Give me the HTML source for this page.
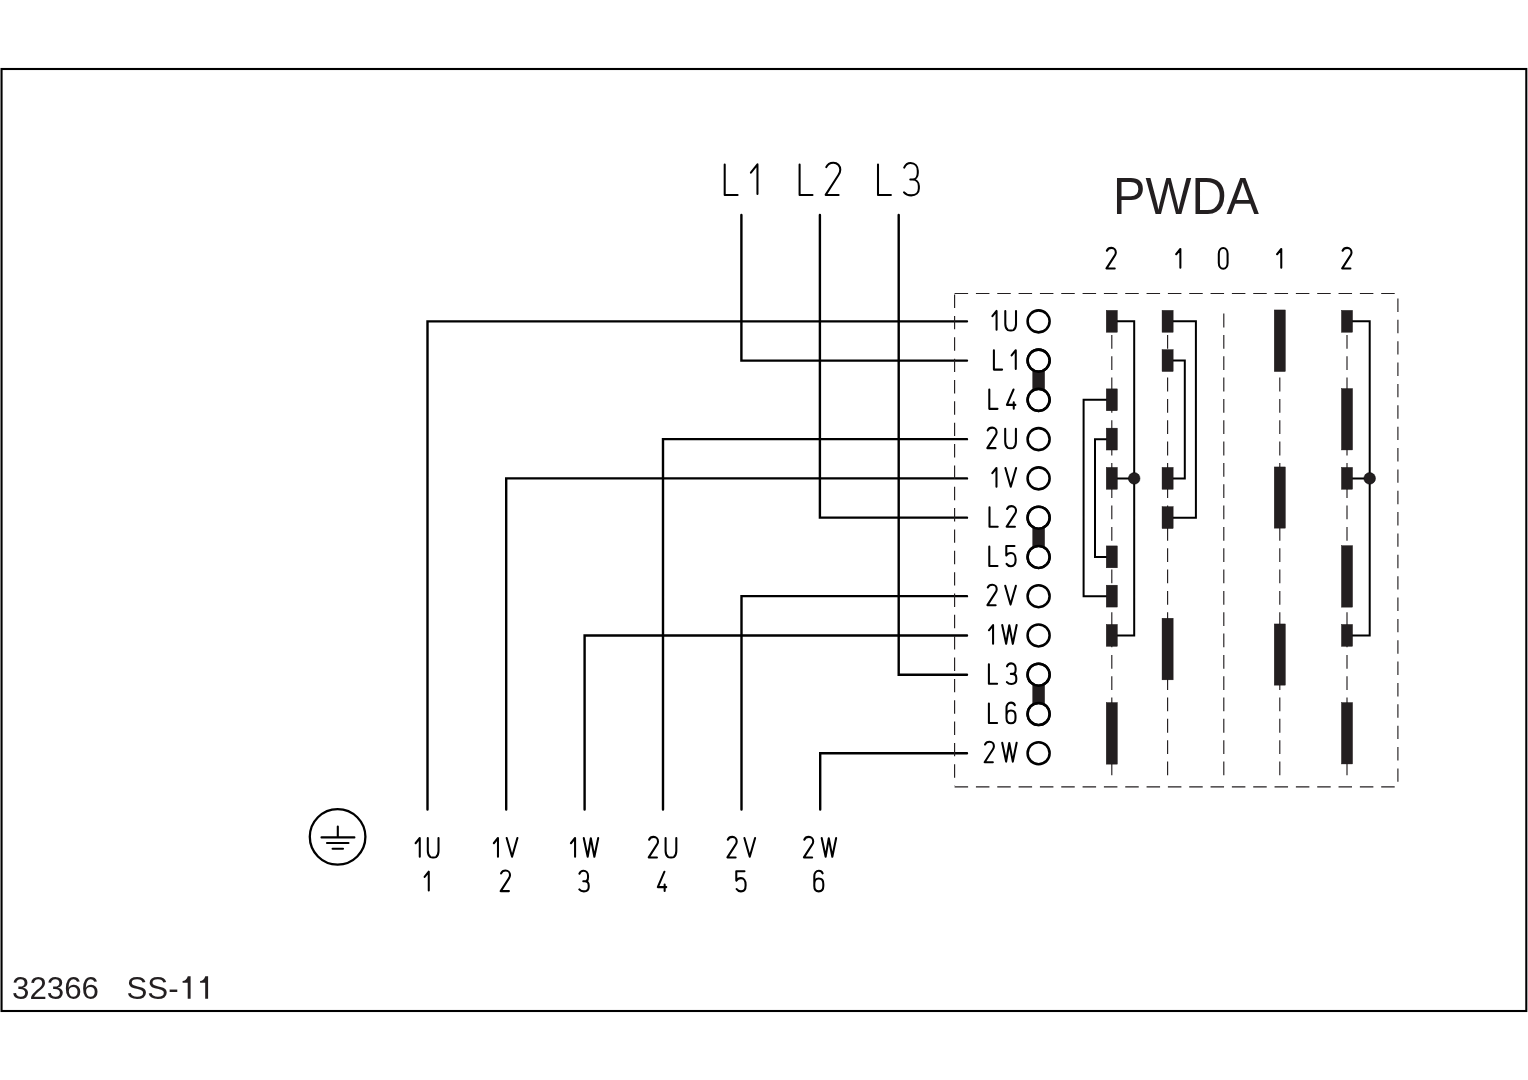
<!DOCTYPE html>
<html><head><meta charset="utf-8"><style>
html,body{margin:0;padding:0;background:#fff;}
svg{display:block;will-change:transform;}
</style></head><body>
<svg width="1528" height="1080" viewBox="0 0 1528 1080">
<rect width="1528" height="1080" fill="#fff"/>

<rect x="1.55" y="69" width="1524.75" height="942" fill="none" stroke="#000" stroke-width="2.1"/>
<path d="M741.4,215.0 V360.61 H967 M819.9,215.0 V517.65 H967 M898.7,215.0 V674.69 H967 M427.5,809.6 V321.35 H967 M506.2,809.6 V478.39 H967 M584.6,809.6 V635.4300000000001 H967 M663.0,809.6 V439.13 H967 M741.5,809.6 V596.1700000000001 H967 M820.2,809.6 V753.21 H967" fill="none" stroke="#000" stroke-width="2.4" stroke-linejoin="miter" stroke-linecap="round"/>
<g fill="none" stroke="#000" stroke-width="2.55"><circle cx="1038.6" cy="321.35" r="11.0"/><circle cx="1038.6" cy="360.61" r="11.0"/><circle cx="1038.6" cy="399.87" r="11.0"/><circle cx="1038.6" cy="439.13" r="11.0"/><circle cx="1038.6" cy="478.39" r="11.0"/><circle cx="1038.6" cy="517.65" r="11.0"/><circle cx="1038.6" cy="556.91" r="11.0"/><circle cx="1038.6" cy="596.17" r="11.0"/><circle cx="1038.6" cy="635.43" r="11.0"/><circle cx="1038.6" cy="674.69" r="11.0"/><circle cx="1038.6" cy="713.95" r="11.0"/><circle cx="1038.6" cy="753.21" r="11.0"/></g>
<g fill="#231f20"><rect x="1032.3999999999999" y="366.61" width="12.4" height="27.26"/><rect x="1032.3999999999999" y="523.65" width="12.4" height="27.26"/><rect x="1032.3999999999999" y="680.69" width="12.4" height="27.26"/></g>
<g fill="#fff"><circle cx="1038.6" cy="360.61" r="9.8"/><circle cx="1038.6" cy="399.87" r="9.8"/><circle cx="1038.6" cy="517.65" r="9.8"/><circle cx="1038.6" cy="556.91" r="9.8"/><circle cx="1038.6" cy="674.69" r="9.8"/><circle cx="1038.6" cy="713.95" r="9.8"/></g>
<g fill="none" stroke="#000" stroke-width="2.55"><circle cx="1038.6" cy="360.61" r="11.0"/><circle cx="1038.6" cy="399.87" r="11.0"/><circle cx="1038.6" cy="517.65" r="11.0"/><circle cx="1038.6" cy="556.91" r="11.0"/><circle cx="1038.6" cy="674.69" r="11.0"/><circle cx="1038.6" cy="713.95" r="11.0"/></g>
<g fill="none" stroke="#231f20" stroke-width="1.15"><line x1="954.6" y1="293.5" x2="1397.9" y2="293.5" stroke-dasharray="13.5 7.83"/><line x1="954.6" y1="786.9" x2="1397.9" y2="786.9" stroke-dasharray="13.5 7.83"/><line x1="954.6" y1="294.6" x2="954.6" y2="786" stroke-dasharray="13.4 7.95"/><line x1="1397.9" y1="298.5" x2="1397.9" y2="786" stroke-dasharray="13.4 7.96"/><line x1="1111.8" y1="313.6" x2="1111.8" y2="775.5" stroke-dasharray="13.8 7.53"/><line x1="1167.6" y1="313.6" x2="1167.6" y2="775.5" stroke-dasharray="13.8 7.53"/><line x1="1223.8" y1="313.6" x2="1223.8" y2="775.5" stroke-dasharray="13.8 7.53"/><line x1="1279.8" y1="313.6" x2="1279.8" y2="775.5" stroke-dasharray="13.8 7.53"/><line x1="1347.0" y1="313.6" x2="1347.0" y2="775.5" stroke-dasharray="13.8 7.53"/></g>
<path d="M1111.8,321.35 H1134.2 V635.4300000000001 H1111.8 M1111.8,478.39 H1134.2 M1111.8,399.87 H1083.6 V596.1700000000001 H1111.8 M1111.8,439.13 H1095.0 V556.9100000000001 H1111.8 M1167.6,321.35 H1195.9 V517.65 H1167.6 M1167.6,360.61 H1184.8 V478.39 H1167.6 M1347.0,321.35 H1369.7 V635.4300000000001 H1347.0 M1347.0,478.39 H1369.7" fill="none" stroke="#000" stroke-width="2.0" stroke-linejoin="miter"/>
<g fill="#231f20" stroke="#000" stroke-width="0.5"><circle cx="1134.2" cy="478.39" r="5.8"/><circle cx="1369.7" cy="478.39" r="5.8"/></g>
<g fill="#231f20" stroke="#140f10" stroke-width="0.4"><rect x="1106.25" y="310.35" width="11.1" height="21.9"/><rect x="1106.25" y="388.87" width="11.1" height="21.9"/><rect x="1106.25" y="428.13" width="11.1" height="21.9"/><rect x="1106.25" y="467.39" width="11.1" height="21.9"/><rect x="1106.25" y="545.91" width="11.1" height="21.9"/><rect x="1106.25" y="585.17" width="11.1" height="21.9"/><rect x="1106.25" y="624.43" width="11.1" height="21.9"/><rect x="1106.25" y="702.55" width="11.1" height="61.60"/><rect x="1162.05" y="310.35" width="11.1" height="21.9"/><rect x="1162.05" y="349.61" width="11.1" height="21.9"/><rect x="1162.05" y="467.39" width="11.1" height="21.9"/><rect x="1162.05" y="506.65" width="11.1" height="21.9"/><rect x="1162.05" y="618.25" width="11.1" height="61.60"/><rect x="1274.25" y="309.95" width="11.1" height="61.60"/><rect x="1274.25" y="466.95" width="11.1" height="61.20"/><rect x="1274.25" y="623.95" width="11.1" height="61.20"/><rect x="1341.45" y="310.35" width="11.1" height="21.9"/><rect x="1341.45" y="467.39" width="11.1" height="21.9"/><rect x="1341.45" y="624.43" width="11.1" height="21.9"/><rect x="1341.45" y="388.55" width="11.1" height="61.40"/><rect x="1341.45" y="545.65" width="11.1" height="61.50"/><rect x="1341.45" y="702.55" width="11.1" height="61.40"/></g>
<circle cx="337.6" cy="836.85" r="27.8" fill="none" stroke="#000" stroke-width="2.3"/>
<path d="M337.8,826.5 V837.4 M321.5,837.4 H354.4 M327,843 H348.5 M332.6,848.7 H343" fill="none" stroke="#000" stroke-width="2.1" stroke-linecap="round"/>
<g fill="none" stroke="#000" stroke-width="2.05" stroke-linecap="round" stroke-linejoin="round"><path vector-effect="non-scaling-stroke" transform="translate(992.40,310.95) scale(1.9400)" d="M0,2.7 L2.15,0 V9.7"/><path vector-effect="non-scaling-stroke" transform="translate(1005.30,310.95) scale(1.9400)" d="M0,0 V6.75 C0,8.3 0.7,9.4 1.4,9.85 C1.7,10.0 2.1,10.05 2.5,10.05 H3.1 C3.5,10.05 3.9,10.0 4.2,9.85 C4.9,9.4 5.52,8.3 5.52,6.75 V0"/><path vector-effect="non-scaling-stroke" transform="translate(993.90,350.21) scale(1.9400)" d="M0,0 V10 H4.23"/><path vector-effect="non-scaling-stroke" transform="translate(1011.60,350.21) scale(1.9400)" d="M0,2.7 L2.15,0 V9.7"/><path vector-effect="non-scaling-stroke" transform="translate(989.30,389.47) scale(1.9400)" d="M0,0 V10 H4.23"/><path vector-effect="non-scaling-stroke" transform="translate(1006.90,389.47) scale(1.9400)" d="M3.42,0 L0,7.95 H4.37 M3.53,6.6 V9.9"/><path vector-effect="non-scaling-stroke" transform="translate(987.40,428.73) scale(1.9400)" d="M0.15,0.9 C0.55,-0.05 1.5,-0.57 2.5,-0.57 C3.8,-0.57 4.75,0.45 4.75,1.75 C4.75,2.45 4.5,2.95 4.1,3.55 L-0.05,10 H4.2"/><path vector-effect="non-scaling-stroke" transform="translate(1005.20,428.73) scale(1.9400)" d="M0,0 V6.75 C0,8.3 0.7,9.4 1.4,9.85 C1.7,10.0 2.1,10.05 2.5,10.05 H3.1 C3.5,10.05 3.9,10.0 4.2,9.85 C4.9,9.4 5.52,8.3 5.52,6.75 V0"/><path vector-effect="non-scaling-stroke" transform="translate(992.30,467.99) scale(1.9400)" d="M0,2.7 L2.15,0 V9.7"/><path vector-effect="non-scaling-stroke" transform="translate(1005.40,467.99) scale(1.9400)" d="M0,0 L2.76,9.7 L5.52,0"/><path vector-effect="non-scaling-stroke" transform="translate(989.50,507.25) scale(1.9400)" d="M0,0 V10 H4.23"/><path vector-effect="non-scaling-stroke" transform="translate(1006.80,507.25) scale(1.9400)" d="M0.15,0.9 C0.55,-0.05 1.5,-0.57 2.5,-0.57 C3.8,-0.57 4.75,0.45 4.75,1.75 C4.75,2.45 4.5,2.95 4.1,3.55 L-0.05,10 H4.2"/><path vector-effect="non-scaling-stroke" transform="translate(989.30,546.51) scale(1.9400)" d="M0,0 V10 H4.23"/><path vector-effect="non-scaling-stroke" transform="translate(1006.10,546.51) scale(1.9400)" d="M4.32,-0.25 H0.1 V4.6 C0.6,3.75 1.5,3.3 2.5,3.3 C3.9,3.3 4.9,4.6 4.9,6.6 V7.1 C4.9,9.0 3.9,10.15 2.5,10.15 C1.5,10.15 0.7,9.7 0.25,8.95"/><path vector-effect="non-scaling-stroke" transform="translate(987.50,585.77) scale(1.9400)" d="M0.15,0.9 C0.55,-0.05 1.5,-0.57 2.5,-0.57 C3.8,-0.57 4.75,0.45 4.75,1.75 C4.75,2.45 4.5,2.95 4.1,3.55 L-0.05,10 H4.2"/><path vector-effect="non-scaling-stroke" transform="translate(1005.20,585.77) scale(1.9400)" d="M0,0 L2.76,9.7 L5.52,0"/><path vector-effect="non-scaling-stroke" transform="translate(988.90,625.03) scale(1.9400)" d="M0,2.7 L2.15,0 V9.7"/><path vector-effect="non-scaling-stroke" transform="translate(1002.20,625.03) scale(1.9400)" d="M0,0 L2.03,9.7 L3.65,0.1 L5.47,9.7 L7.45,0"/><path vector-effect="non-scaling-stroke" transform="translate(988.90,664.29) scale(1.9400)" d="M0,0 V10 H4.23"/><path vector-effect="non-scaling-stroke" transform="translate(1006.80,664.29) scale(1.9400)" d="M0.1,1.05 C0.5,0.1 1.2,-0.47 2.2,-0.47 C3.6,-0.47 4.55,0.6 4.55,2.1 V2.8 C4.55,4.05 3.8,4.95 2.8,4.95 H2.1 M2.8,4.95 C4.05,4.95 4.9,5.85 4.9,7.1 V7.9 C4.9,9.3 3.9,10.15 2.4,10.15 C1.3,10.15 0.5,9.7 0.05,9.15"/><path vector-effect="non-scaling-stroke" transform="translate(988.90,703.55) scale(1.9400)" d="M0,0 V10 H4.23"/><path vector-effect="non-scaling-stroke" transform="translate(1006.50,703.55) scale(1.9400)" d="M4.3,0.85 C3.95,0.0 3.3,-0.47 2.35,-0.47 C0.9,-0.47 0,0.7 0,2.4 V7.4 C0,9.1 0.9,10.15 2.3,10.15 C3.7,10.15 4.65,9.1 4.65,7.4 V6.3 C4.65,4.6 3.7,3.55 2.3,3.55 C0.9,3.55 0,4.6 0,6.3"/><path vector-effect="non-scaling-stroke" transform="translate(984.70,742.81) scale(1.9400)" d="M0.15,0.9 C0.55,-0.05 1.5,-0.57 2.5,-0.57 C3.8,-0.57 4.75,0.45 4.75,1.75 C4.75,2.45 4.5,2.95 4.1,3.55 L-0.05,10 H4.2"/><path vector-effect="non-scaling-stroke" transform="translate(1002.20,742.81) scale(1.9400)" d="M0,0 L2.03,9.7 L3.65,0.1 L5.47,9.7 L7.45,0"/><path vector-effect="non-scaling-stroke" transform="translate(415.60,838.00) scale(1.9400)" d="M0,2.7 L2.15,0 V9.7"/><path vector-effect="non-scaling-stroke" transform="translate(427.80,838.00) scale(1.9400)" d="M0,0 V6.75 C0,8.3 0.7,9.4 1.4,9.85 C1.7,10.0 2.1,10.05 2.5,10.05 H3.1 C3.5,10.05 3.9,10.0 4.2,9.85 C4.9,9.4 5.52,8.3 5.52,6.75 V0"/><path vector-effect="non-scaling-stroke" transform="translate(493.80,838.00) scale(1.9400)" d="M0,2.7 L2.15,0 V9.7"/><path vector-effect="non-scaling-stroke" transform="translate(506.70,838.00) scale(1.9400)" d="M0,0 L2.76,9.7 L5.52,0"/><path vector-effect="non-scaling-stroke" transform="translate(570.90,838.00) scale(1.9400)" d="M0,2.7 L2.15,0 V9.7"/><path vector-effect="non-scaling-stroke" transform="translate(583.75,838.00) scale(1.9400)" d="M0,0 L2.03,9.7 L3.65,0.1 L5.47,9.7 L7.45,0"/><path vector-effect="non-scaling-stroke" transform="translate(648.80,838.00) scale(1.9400)" d="M0.15,0.9 C0.55,-0.05 1.5,-0.57 2.5,-0.57 C3.8,-0.57 4.75,0.45 4.75,1.75 C4.75,2.45 4.5,2.95 4.1,3.55 L-0.05,10 H4.2"/><path vector-effect="non-scaling-stroke" transform="translate(665.60,838.00) scale(1.9400)" d="M0,0 V6.75 C0,8.3 0.7,9.4 1.4,9.85 C1.7,10.0 2.1,10.05 2.5,10.05 H3.1 C3.5,10.05 3.9,10.0 4.2,9.85 C4.9,9.4 5.52,8.3 5.52,6.75 V0"/><path vector-effect="non-scaling-stroke" transform="translate(727.50,838.00) scale(1.9400)" d="M0.15,0.9 C0.55,-0.05 1.5,-0.57 2.5,-0.57 C3.8,-0.57 4.75,0.45 4.75,1.75 C4.75,2.45 4.5,2.95 4.1,3.55 L-0.05,10 H4.2"/><path vector-effect="non-scaling-stroke" transform="translate(744.40,838.00) scale(1.9400)" d="M0,0 L2.76,9.7 L5.52,0"/><path vector-effect="non-scaling-stroke" transform="translate(804.00,838.00) scale(1.9400)" d="M0.15,0.9 C0.55,-0.05 1.5,-0.57 2.5,-0.57 C3.8,-0.57 4.75,0.45 4.75,1.75 C4.75,2.45 4.5,2.95 4.1,3.55 L-0.05,10 H4.2"/><path vector-effect="non-scaling-stroke" transform="translate(821.70,838.00) scale(1.9400)" d="M0,0 L2.03,9.7 L3.65,0.1 L5.47,9.7 L7.45,0"/><path vector-effect="non-scaling-stroke" transform="translate(424.60,871.70) scale(1.9400)" d="M0,2.7 L2.15,0 V9.7"/><path vector-effect="non-scaling-stroke" transform="translate(500.80,871.70) scale(1.9400)" d="M0.15,0.9 C0.55,-0.05 1.5,-0.57 2.5,-0.57 C3.8,-0.57 4.75,0.45 4.75,1.75 C4.75,2.45 4.5,2.95 4.1,3.55 L-0.05,10 H4.2"/><path vector-effect="non-scaling-stroke" transform="translate(579.20,871.70) scale(1.9400)" d="M0.1,1.05 C0.5,0.1 1.2,-0.47 2.2,-0.47 C3.6,-0.47 4.55,0.6 4.55,2.1 V2.8 C4.55,4.05 3.8,4.95 2.8,4.95 H2.1 M2.8,4.95 C4.05,4.95 4.9,5.85 4.9,7.1 V7.9 C4.9,9.3 3.9,10.15 2.4,10.15 C1.3,10.15 0.5,9.7 0.05,9.15"/><path vector-effect="non-scaling-stroke" transform="translate(657.80,871.70) scale(1.9400)" d="M3.42,0 L0,7.95 H4.37 M3.53,6.6 V9.9"/><path vector-effect="non-scaling-stroke" transform="translate(736.10,871.70) scale(1.9400)" d="M4.32,-0.25 H0.1 V4.6 C0.6,3.75 1.5,3.3 2.5,3.3 C3.9,3.3 4.9,4.6 4.9,6.6 V7.1 C4.9,9.0 3.9,10.15 2.5,10.15 C1.5,10.15 0.7,9.7 0.25,8.95"/><path vector-effect="non-scaling-stroke" transform="translate(814.30,871.70) scale(1.9400)" d="M4.3,0.85 C3.95,0.0 3.3,-0.47 2.35,-0.47 C0.9,-0.47 0,0.7 0,2.4 V7.4 C0,9.1 0.9,10.15 2.3,10.15 C3.7,10.15 4.65,9.1 4.65,7.4 V6.3 C4.65,4.6 3.7,3.55 2.3,3.55 C0.9,3.55 0,4.6 0,6.3"/><path vector-effect="non-scaling-stroke" transform="translate(1106.60,249.00) scale(1.9400)" d="M0.15,0.9 C0.55,-0.05 1.5,-0.57 2.5,-0.57 C3.8,-0.57 4.75,0.45 4.75,1.75 C4.75,2.45 4.5,2.95 4.1,3.55 L-0.05,10 H4.2"/><path vector-effect="non-scaling-stroke" transform="translate(1176.20,249.00) scale(1.9400)" d="M0,2.7 L2.15,0 V9.7"/><path vector-effect="non-scaling-stroke" transform="translate(1218.80,249.00) scale(1.9400)" d="M0,2.5 C0,0.7 1.0,-0.47 2.27,-0.47 C3.55,-0.47 4.53,0.7 4.53,2.5 V7.2 C4.53,9.0 3.55,10.15 2.27,10.15 C1.0,10.15 0,9.0 0,7.2 Z"/><path vector-effect="non-scaling-stroke" transform="translate(1277.10,249.00) scale(1.9400)" d="M0,2.7 L2.15,0 V9.7"/><path vector-effect="non-scaling-stroke" transform="translate(1342.30,249.00) scale(1.9400)" d="M0.15,0.9 C0.55,-0.05 1.5,-0.57 2.5,-0.57 C3.8,-0.57 4.75,0.45 4.75,1.75 C4.75,2.45 4.5,2.95 4.1,3.55 L-0.05,10 H4.2"/><path vector-effect="non-scaling-stroke" transform="translate(724.70,164.40) scale(3.0500)" d="M0,0 V10 H4.23"/><path vector-effect="non-scaling-stroke" transform="translate(750.90,164.40) scale(3.0500)" d="M0,2.7 L2.15,0 V9.7"/><path vector-effect="non-scaling-stroke" transform="translate(799.60,164.40) scale(3.0500)" d="M0,0 V10 H4.23"/><path vector-effect="non-scaling-stroke" transform="translate(825.80,164.40) scale(3.0500)" d="M0.15,0.9 C0.55,-0.05 1.5,-0.57 2.5,-0.57 C3.8,-0.57 4.75,0.45 4.75,1.75 C4.75,2.45 4.5,2.95 4.1,3.55 L-0.05,10 H4.2"/><path vector-effect="non-scaling-stroke" transform="translate(878.00,164.40) scale(3.0500)" d="M0,0 V10 H4.23"/><path vector-effect="non-scaling-stroke" transform="translate(903.90,164.40) scale(3.0500)" d="M0.1,1.05 C0.5,0.1 1.2,-0.47 2.2,-0.47 C3.6,-0.47 4.55,0.6 4.55,2.1 V2.8 C4.55,4.05 3.8,4.95 2.8,4.95 H2.1 M2.8,4.95 C4.05,4.95 4.9,5.85 4.9,7.1 V7.9 C4.9,9.3 3.9,10.15 2.4,10.15 C1.3,10.15 0.5,9.7 0.05,9.15"/></g>
<text transform="translate(1113.1,213.9) scale(0.93,1)" x="0" y="0" font-family="Liberation Sans, sans-serif" font-size="52.3" fill="#231f20">PWDA</text>
<text x="12" y="998.9" font-family="Liberation Sans, sans-serif" font-size="31.3" fill="#231f20">32366</text>
<text x="126.5" y="998.9" font-family="Liberation Sans, sans-serif" font-size="31.3" fill="#231f20">SS-</text>
<path fill="#231f20" d="M190.6,976.3 V998.8 H187.7 V982.7 H182.6 V981.1 C184.8,980.9 187.0,979.6 187.8,976.3 Z M208.1,976.3 V998.8 H205.2 V982.7 H200.1 V981.1 C202.3,980.9 204.5,979.6 205.3,976.3 Z"/>
</svg></body></html>
